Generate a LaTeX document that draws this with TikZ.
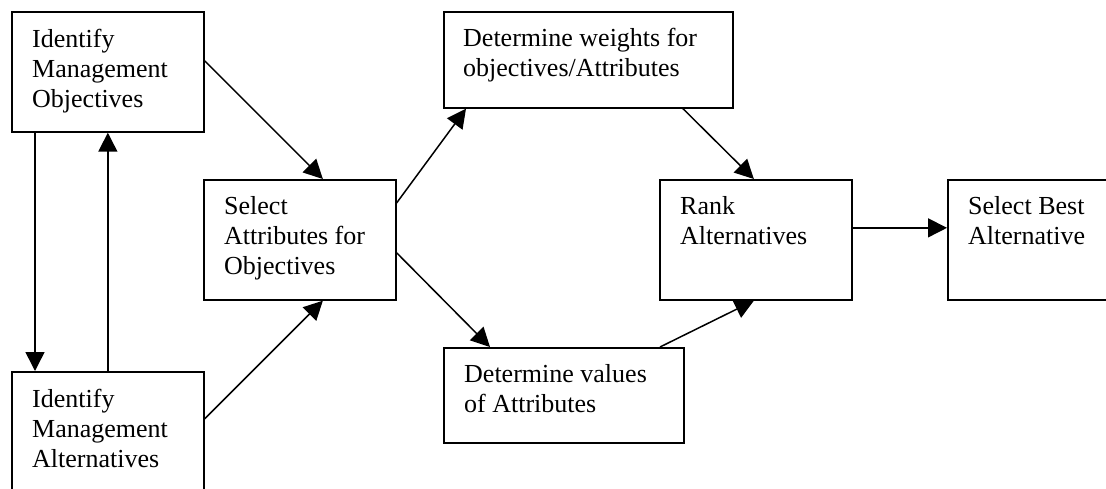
\documentclass[tikz,border=0pt]{standalone}
\usepackage{fontspec}
\setmainfont{Liberation Serif}
\usetikzlibrary{arrows.meta}
\begin{document}
\begin{tikzpicture}[x=1pt,y=-1pt,
  box/.style={draw, line width=1.7pt, inner sep=0pt, anchor=north west},
  txt/.style={font=\fontsize{26}{30}\selectfont, align=left, anchor=base west, inner sep=0pt},
  conn/.style={line width=1.5pt, -{Triangle[length=19pt,width=19pt]}}]
\useasboundingbox (0,0) rectangle (1106,488);
\clip (0,0) rectangle (1106,488);
% boxes
\node[box, minimum width=192pt, minimum height=120pt] (b1) at (11,11) {};
\node[box, minimum width=192pt, minimum height=120pt] (b2) at (11,371) {};
\node[box, minimum width=192pt, minimum height=120pt] (sel) at (203,179) {};
\node[box, minimum width=289pt, minimum height=96pt] (w) at (443,11) {};
\node[box, minimum width=240pt, minimum height=95pt] (v) at (443,347) {};
\node[box, minimum width=192pt, minimum height=120pt] (rank) at (659,179) {};
\node[box, minimum width=192pt, minimum height=120pt] (best) at (947,179) {};
% texts (anchored at the baseline of their last line)
\node[txt] (t1) at (32,107) {Identify\\Management\\Objectives};
\node[txt] (t2) at (32,467) {Identify\\Management\\Alternatives};
\node[txt] (t3) at (224,274) {Select\\Attributes for\\Objectives};
\node[txt] (t4) at (463,76.5) {Determine weights for\\objectives/Attributes};
\node[txt] (t5) at (464,412) {Determine values\\of Attributes};
\node[txt] (t6) at (680,244) {Rank\\Alternatives};
\node[txt] (t7) at (968,244) {Select Best\\Alternative};
% connectors
\draw[conn] ([xshift=24pt]b1.south west) -- ([xshift=24pt]b2.north west);
\draw[conn] (b2.north) -- (b1.south);
\draw[conn] ([yshift=11pt]b1.east) -- ([xshift=23pt]sel.north);
\draw[conn] ([yshift=13pt]b2.east) -- ([xshift=23pt]sel.south);
\draw[conn] ([yshift=37pt]sel.east) -- ([xshift=23pt]w.south west);
\draw[conn] ([yshift=-13pt]sel.east) -- ([xshift=47pt]v.north west);
\draw[conn] ([xshift=240pt]w.south west) -- ([xshift=-2pt]rank.north);
\draw[conn] ([xshift=217pt]v.north west) -- ([xshift=-2pt]rank.south);
\draw[conn] ([yshift=12pt]rank.east) -- ([yshift=12pt]best.west);
\end{tikzpicture}
\end{document}
